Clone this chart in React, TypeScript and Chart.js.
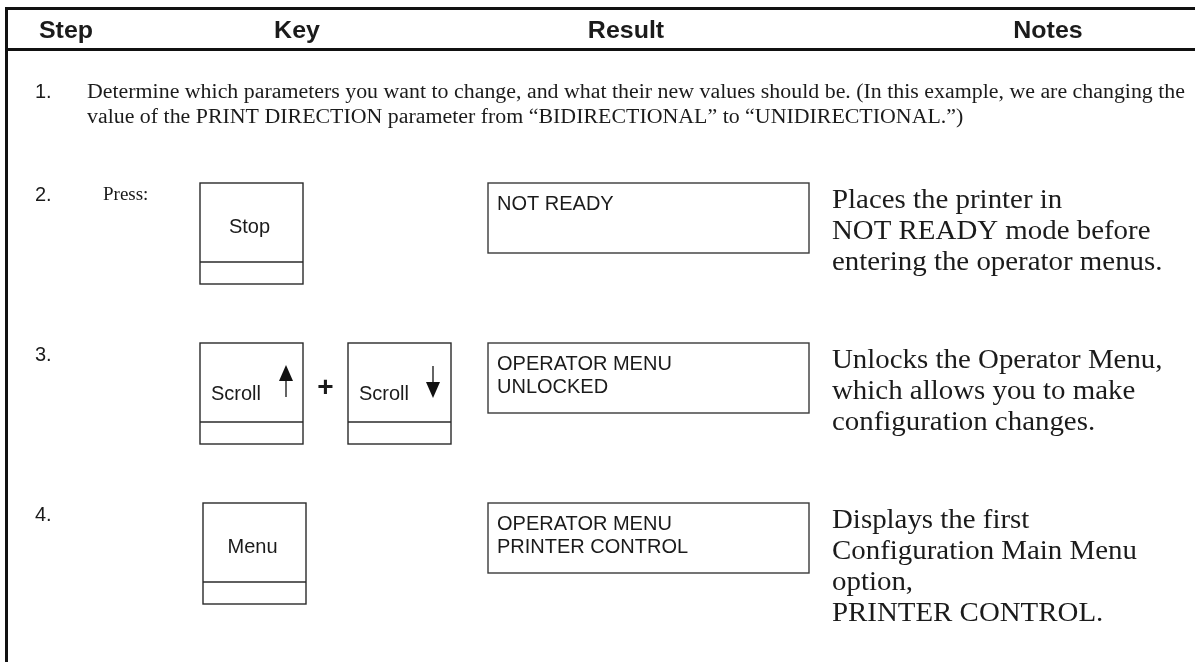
import React, { useEffect, useRef } from "react";
import { Chart, registerables } from "chart.js";

Chart.register(...registerables);

// ---------- content ----------
const columnHeaders = ["Step", "Key", "Result", "Notes"];
const stepNumbers = ["1.", "2.", "3.", "4."];
const introLines = [
  "Determine which parameters you want to change, and what their new values should be. (In this example, we are changing the",
  "value of the PRINT DIRECTION parameter from \u201CBIDIRECTIONAL\u201D to \u201CUNIDIRECTIONAL.\u201D)",
];
const pressLabel = "Press:";
const keyLabels = [["Stop"], ["Scroll", "Scroll"], ["Menu"]];
const keyArrows = [["none"], ["up", "down"], ["none"]];
const comboSign = "+";
const resultLines = [
  ["NOT READY"],
  ["OPERATOR MENU", "UNLOCKED"],
  ["OPERATOR MENU", "PRINTER CONTROL"],
];
const noteLines = [
  ["Places the printer in", "NOT READY mode before", "entering the operator menus."],
  ["Unlocks the Operator Menu,", "which allows you to make", "configuration changes."],
  ["Displays the first", "Configuration Main Menu", "option,", "PRINTER CONTROL."],
];

// ---------- layout (page units = px) ----------
const W = 1195;
const H = 662;
const L = {
  borderX: 6.5,
  topLineY: 8.5,
  headLineY: 49.5,
  headerBaseline: 38,
  headerCenters: [66, 297, 626, 1048],
  stepX: 35,
  introX: 87,
  introRight: 1185,
  introBaselines: [98, 123],
  rowTops: [183, 343, 503],
  keyLefts: [[200], [200, 348], [203]],
  keyW: 103,
  keyH: 101,
  keySplit: 79,
  resultX: 488,
  resultW: 321,
  resultH: 70,
  noteX: 832,
  noteFirst: 25,
  noteGap: 31,
};

const SANS = "'Liberation Sans', Arial, sans-serif";
const SERIF = "'Liberation Serif', 'Times New Roman', serif";
const INK = "#1b1b1b";

function App() {
  const ref = useRef<HTMLCanvasElement | null>(null);

  useEffect(() => {
    const canvas = ref.current;
    if (!canvas) return;

    const tablePlugin = {
      id: "tablePlugin",
      beforeDraw(chart: any) {
        const c = chart.ctx;
        c.save();
        c.fillStyle = "#ffffff";
        c.fillRect(0, 0, chart.width, chart.height);
        c.restore();
      },
      afterDraw(chart: any) {
        const c: CanvasRenderingContext2D = chart.ctx;
        const X = (v: number) => chart.scales.x.getPixelForValue(v);
        const Y = (v: number) => chart.scales.y.getPixelForValue(v);

        const text = (
          s: string,
          x: number,
          y: number,
          font: string,
          align: CanvasTextAlign = "left",
          sx = 1
        ) => {
          c.save();
          c.translate(X(x), Y(y));
          c.scale(sx, 1);
          c.font = font;
          c.fillStyle = INK;
          c.textAlign = align;
          c.textBaseline = "alphabetic";
          c.fillText(s, 0, 0);
          c.restore();
        };
        const line = (x1: number, y1: number, x2: number, y2: number, w: number, col = INK) => {
          c.save();
          c.strokeStyle = col;
          c.lineWidth = w;
          c.beginPath();
          c.moveTo(X(x1), Y(y1));
          c.lineTo(X(x2), Y(y2));
          c.stroke();
          c.restore();
        };
        const rect = (x: number, y: number, w: number, h: number, lw: number, col: string) => {
          c.save();
          c.strokeStyle = col;
          c.lineWidth = lw;
          c.strokeRect(X(x), Y(y), X(x + w) - X(x), Y(y + h) - Y(y));
          c.restore();
        };

        // frame
        line(L.borderX - 1.5, L.topLineY, W, L.topLineY, 3, "#111");
        line(L.borderX, L.topLineY, L.borderX, H, 3, "#111");
        line(L.borderX, L.headLineY, W, L.headLineY, 3, "#111");

        // headers
        columnHeaders.forEach((h, i) =>
          text(h, L.headerCenters[i], L.headerBaseline, `bold 24px ${SANS}`, "center", 1.04)
        );

        // step 1
        text(stepNumbers[0], L.stepX, L.introBaselines[0], `20px ${SANS}`);
        const introFont = `20px ${SERIF}`;
        c.save();
        c.font = introFont;
        const w0 = c.measureText(introLines[0]).width;
        c.restore();
        const introSx = (X(L.introRight) - X(L.introX)) / w0;
        introLines.forEach((s, i) =>
          text(s, L.introX, L.introBaselines[i], introFont, "left", introSx)
        );

        // steps 2..4
        L.rowTops.forEach((top, r) => {
          text(stepNumbers[r + 1], L.stepX, top + 18, `20px ${SANS}`);
          if (r === 0) text(pressLabel, 103, top + 17, `19px ${SERIF}`);

          keyLabels[r].forEach((lab, k) => {
            const kx = L.keyLefts[r][k];
            rect(kx, top, L.keyW, L.keyH, 1.4, "#2a2a2a");
            line(kx, top + L.keySplit, kx + L.keyW, top + L.keySplit, 1.4, "#2a2a2a");
            const arrow = keyArrows[r][k];
            if (arrow === "none") {
              text(lab, kx + L.keyW / 2 - 2, top + 50, `20px ${SANS}`, "center");
            } else {
              text(lab, kx + 11, top + 57, `20px ${SANS}`);
              const ax = kx + (arrow === "up" ? 86 : 85);
              c.save();
              c.fillStyle = "#111";
              c.beginPath();
              if (arrow === "up") {
                c.moveTo(X(ax), Y(top + 22));
                c.lineTo(X(ax - 7), Y(top + 38));
                c.lineTo(X(ax + 7), Y(top + 38));
              } else {
                c.moveTo(X(ax), Y(top + 55));
                c.lineTo(X(ax - 7), Y(top + 39));
                c.lineTo(X(ax + 7), Y(top + 39));
              }
              c.closePath();
              c.fill();
              c.restore();
              if (arrow === "up") line(ax, top + 37, ax, top + 54, 1.3, "#111");
              else line(ax, top + 23, ax, top + 40, 1.3, "#111");
            }
          });
          if (keyLabels[r].length > 1) {
            text(comboSign, 325.5, top + 53, `bold 28px ${SANS}`, "center");
          }

          // result display
          rect(L.resultX, top, L.resultW, L.resultH, 1.4, "#3a3a3a");
          resultLines[r].forEach((s, i) =>
            text(s, L.resultX + 9, top + 27 + i * 23, `20px ${SANS}`)
          );

          // notes
          noteLines[r].forEach((s, i) =>
            text(s, L.noteX, top + L.noteFirst + i * L.noteGap, `27px ${SERIF}`, "left", 1.07)
          );
        });
      },
    };

    const chart = new Chart(canvas, {
      type: "scatter",
      data: {
        datasets: [
          {
            label: "steps",
            data: stepNumbers.map((_, i) => ({ x: L.stepX, y: i === 0 ? L.introBaselines[0] : L.rowTops[i - 1] })),
            pointRadius: 0,
            showLine: false,
          },
        ],
      },
      options: {
        responsive: false,
        animation: false,
        devicePixelRatio: 1,
        layout: { padding: 0 },
        plugins: { legend: { display: false }, tooltip: { enabled: false }, title: { display: false } },
        scales: {
          x: { type: "linear", min: 0, max: W, display: false },
          y: { type: "linear", min: 0, max: H, reverse: true, display: false },
        },
      },
      plugins: [tablePlugin],
    });
    return () => chart.destroy();
  }, []);

  return (
    <div style={{ position: "fixed", left: 0, top: 0, width: W, height: H, background: "#fff" }}>
      <canvas ref={ref} width={W} height={H} style={{ display: "block", width: W, height: H }} />
    </div>
  );
}

export default App;
